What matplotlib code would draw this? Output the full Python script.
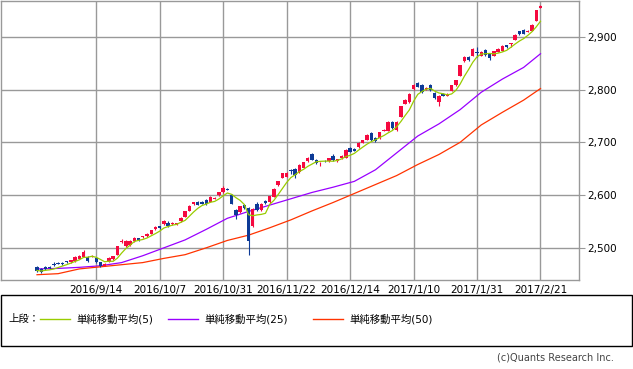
import numpy as np
import pandas as pd
import matplotlib
matplotlib.use("Agg")
import matplotlib.pyplot as plt
from matplotlib.lines import Line2D
from matplotlib.patches import Rectangle

plt.rcParams["font.family"] = ["DejaVu Sans", "Noto Sans CJK JP"]

# daily candles, 2016/8/24 .. 2017/2/21 (trading days)
opens = [2463, 2459, 2463, 2464, 2469, 2472, 2472, 2474, 2473, 2475,
         2479, 2483, 2483, 2483, 2480, 2473, 2466, 2474, 2478, 2487,
         2511, 2503, 2505, 2512, 2518, 2520, 2522, 2527, 2535, 2541,
         2545, 2547, 2545, 2545, 2550, 2559, 2570, 2583, 2587, 2587,
         2590, 2587, 2593, 2600, 2605, 2611, 2601, 2571, 2567, 2582,
         2576, 2542, 2584, 2571, 2588, 2586, 2597, 2619, 2633, 2635,
         2647, 2650, 2643, 2652, 2664, 2677, 2667, 2660, 2665, 2664,
         2675, 2664, 2670, 2671, 2690, 2688, 2691, 2699, 2705, 2718,
         2708, 2708, 2722, 2722, 2738, 2723, 2749, 2773, 2776, 2801,
         2813, 2808, 2802, 2809, 2794, 2777, 2792, 2788, 2798, 2808,
         2826, 2854, 2862, 2864, 2872, 2864, 2875, 2869, 2864, 2872,
         2874, 2884, 2887, 2895, 2911, 2913, 2910, 2912, 2931, 2955]
closes = [2457, 2455, 2460, 2461, 2467, 2470, 2469, 2473, 2476, 2483,
          2485, 2492, 2475, 2485, 2473, 2465, 2470, 2480, 2484, 2503,
          2513, 2513, 2512, 2519, 2514, 2521, 2527, 2533, 2540, 2537,
          2551, 2541, 2546, 2547, 2557, 2569, 2580, 2586, 2582, 2584,
          2583, 2597, 2594, 2605, 2614, 2610, 2584, 2563, 2579, 2575,
          2513, 2574, 2571, 2584, 2585, 2598, 2612, 2626, 2641, 2642,
          2645, 2638, 2657, 2662, 2670, 2667, 2660, 2661, 2664, 2670,
          2666, 2668, 2675, 2686, 2682, 2684, 2699, 2704, 2714, 2705,
          2703, 2719, 2724, 2739, 2727, 2739, 2768, 2781, 2792, 2809,
          2805, 2795, 2803, 2799, 2784, 2787, 2788, 2792, 2808, 2818,
          2846, 2862, 2856, 2877, 2870, 2872, 2865, 2859, 2873, 2877,
          2883, 2880, 2888, 2904, 2905, 2906, 2911, 2923, 2950, 2958]
highs = [2465, 2461, 2466, 2466, 2473, 2474, 2473, 2475, 2477, 2484,
         2486, 2495, 2484, 2486, 2481, 2474, 2471, 2483, 2485, 2504,
         2517, 2514, 2514, 2520, 2519, 2523, 2528, 2534, 2541, 2542,
         2552, 2550, 2549, 2548, 2558, 2570, 2581, 2587, 2588, 2589,
         2592, 2598, 2596, 2606, 2617, 2613, 2602, 2573, 2580, 2583,
         2578, 2576, 2586, 2585, 2590, 2599, 2613, 2627, 2642, 2643,
         2650, 2652, 2658, 2663, 2672, 2680, 2668, 2663, 2667, 2671,
         2677, 2669, 2676, 2687, 2692, 2690, 2700, 2705, 2715, 2719,
         2710, 2720, 2726, 2740, 2740, 2741, 2769, 2782, 2793, 2811,
         2815, 2810, 2805, 2810, 2796, 2789, 2793, 2793, 2809, 2819,
         2847, 2863, 2863, 2878, 2880, 2873, 2877, 2870, 2874, 2878,
         2884, 2885, 2889, 2905, 2912, 2914, 2913, 2924, 2951, 2960]
lows = [2455, 2452, 2458, 2460, 2465, 2469, 2468, 2472, 2472, 2474,
        2478, 2482, 2473, 2482, 2471, 2463, 2465, 2473, 2477, 2486,
        2510, 2501, 2504, 2511, 2513, 2519, 2521, 2526, 2534, 2535,
        2544, 2540, 2544, 2544, 2549, 2558, 2569, 2582, 2581, 2583,
        2581, 2586, 2592, 2599, 2604, 2609, 2583, 2554, 2566, 2574,
        2487, 2540, 2570, 2570, 2584, 2585, 2596, 2618, 2632, 2634,
        2640, 2632, 2642, 2651, 2663, 2666, 2658, 2656, 2663, 2663,
        2665, 2663, 2669, 2670, 2681, 2683, 2690, 2698, 2704, 2703,
        2700, 2707, 2721, 2721, 2726, 2722, 2748, 2772, 2775, 2800,
        2804, 2793, 2800, 2798, 2783, 2768, 2787, 2787, 2797, 2807,
        2825, 2852, 2855, 2863, 2862, 2863, 2864, 2857, 2863, 2871,
        2873, 2879, 2881, 2894, 2904, 2905, 2909, 2911, 2930, 2954]

# 25 / 50 day averages at every 5th candle
ma_days = [0, 5, 10, 15, 20, 25, 30, 35, 40, 45, 50, 55, 60, 65, 70, 75,
           80, 85, 90, 95, 100, 105, 110, 115, 119]
ma25 = [2460, 2461, 2463, 2466, 2472, 2485, 2500, 2515, 2535, 2556, 2569,
        2581, 2593, 2605, 2615, 2626, 2648, 2680, 2712, 2735, 2762, 2795,
        2820, 2842, 2868]
ma50 = [2449, 2451, 2460, 2464, 2468, 2472, 2480, 2487, 2500, 2514, 2524,
        2538, 2553, 2570, 2586, 2603, 2620, 2637, 2658, 2677, 2700, 2733,
        2757, 2780, 2802]

tick_days = [14, 29, 44, 59, 74, 89, 104, 119]
tick_labels = ["2016/9/14", "2016/10/7", "2016/10/31", "2016/11/22",
               "2016/12/14", "2017/1/10", "2017/1/31", "2017/2/21"]
price_ticks = [2500, 2600, 2700, 2800, 2900]

UP = "#f5093f"
DOWN = "#0d3a96"
GRID = "#999999"
W, H = 633, 369


def main():
    o = np.array(opens, float)
    c = np.array(closes, float)
    hi = np.array(highs, float)
    lo = np.array(lows, float)
    x = np.arange(len(c))
    ma5 = pd.Series(c).rolling(5, min_periods=1).mean()

    fig = plt.figure(figsize=(W / 100, H / 100), dpi=100)
    ax = fig.add_axes([1 / W, 1 - 280 / H, 578 / W, 279 / H])

    ax.set_xlim(-8.5, 128.1)
    ax.set_ylim(2439, 2968)
    ax.set_xticks(tick_days)
    ax.set_xticklabels(tick_labels, fontsize=7.5)
    ax.set_yticks(price_ticks)
    ax.set_yticklabels([f"{v:,}" for v in price_ticks], fontsize=7.5)
    ax.yaxis.tick_right()
    ax.tick_params(axis="y", length=4, color=GRID, pad=2)
    ax.tick_params(axis="x", length=0, pad=3.5)
    ax.grid(True, color=GRID, linewidth=1.0)
    ax.set_axisbelow(True)
    for s in ax.spines.values():
        s.set_color(GRID)
        s.set_linewidth(1.0)

    colors = np.where(c >= o, UP, DOWN)
    ax.vlines(x, lo, hi, colors=colors, linewidth=0.8, zorder=3)
    body = np.maximum(np.abs(c - o), 1.5)
    ax.bar(x, body, bottom=np.minimum(o, c), width=0.8, color=colors,
           linewidth=0, zorder=4)

    ax.plot(x, ma5, color="#99cc00", linewidth=0.9, zorder=5)
    ax.plot(ma_days, ma25, color="#9900ff", linewidth=0.9, zorder=2)
    ax.plot(ma_days, ma50, color="#ff3300", linewidth=0.9, zorder=2)

    # legend panel under the chart
    fig.add_artist(Rectangle((1 / W, 1 - 346 / H), 631 / W, 51 / H,
                             transform=fig.transFigure, fill=False,
                             edgecolor="black", linewidth=1.0))
    ly = 1 - 319 / H
    fig.text(8 / W, ly, "上段：", fontsize=7.5, va="center")
    items = [(40, "#99cc00", "単純移動平均(5)"),
             (168, "#9900ff", "単純移動平均(25)"),
             (313, "#ff3300", "単純移動平均(50)")]
    for x0, col, label in items:
        fig.add_artist(Line2D([x0 / W, (x0 + 30) / W], [ly, ly],
                              transform=fig.transFigure, color=col,
                              linewidth=1.0))
        fig.text((x0 + 36) / W, ly, label, fontsize=7.5, va="center")

    fig.text(614 / W, 1 - 357 / H, "(c)Quants Research Inc.", fontsize=7,
             ha="right", va="center", color="#444444")

    fig.savefig("out.png", dpi=100)


if __name__ == "__main__":
    main()
